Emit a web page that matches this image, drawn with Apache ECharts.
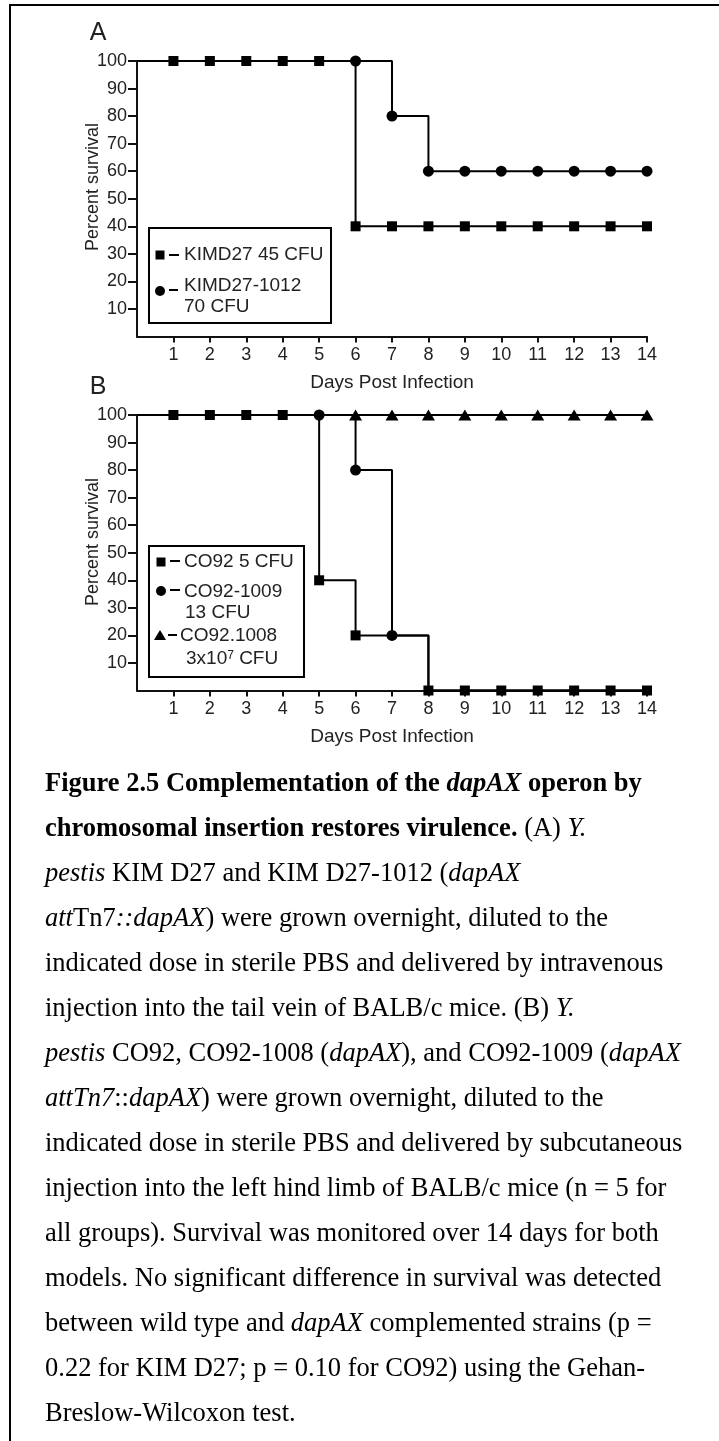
<!DOCTYPE html>
<html>
<head>
<meta charset="utf-8">
<script src="https://cdn.jsdelivr.net/npm/echarts@6/dist/echarts.min.js"></script>
<style>
html,body{margin:0;padding:0;background:#fff;}
#c{width:719px;height:1441px;}
</style>
</head>
<body>
<div id="c"></div>
<script>
// ---------- data ----------
const days = [0,1,2,3,4,5,6,7,8,9,10,11,12,13,14];
const xTicks = [1,2,3,4,5,6,7,8,9,10,11,12,13,14];
const yTicks = [10,20,30,40,50,60,70,80,90,100];

// Panel A
const nameA1 = 'KIMD27 45 CFU';
const nameA2 = ['KIMD27-1012', '70 CFU'];
const survA_KIMD27      = [100,100,100,100,100,100,40,40,40,40,40,40,40,40,40];
const survA_KIMD27_1012 = [100,100,100,100,100,100,100,80,60,60,60,60,60,60,60];
const markA_KIMD27      = [1,2,3,4,5,6,7,8,9,10,11,12,13,14];
const markA_KIMD27_1012 = [6,7,8,9,10,11,12,13,14];

// Panel B
const nameB1 = 'CO92 5 CFU';
const nameB2 = ['CO92-1009', '13 CFU'];
const nameB3 = ['CO92.1008', '3x10{sup|7} CFU'];
const survB_CO92      = [100,100,100,100,100,40,20,20,0,0,0,0,0,0,0];
const survB_CO92_1009 = [100,100,100,100,100,100,80,20,0,0,0,0,0,0,0];
const survB_CO92_1008 = [100,100,100,100,100,100,100,100,100,100,100,100,100,100,100];
const markB_CO92      = [1,2,3,4,5,6,8,9,10,11,12,13,14];
const markB_CO92_1009 = [5,6,7];
const markB_CO92_1008 = [6,7,8,9,10,11,12,13,14];

const yName = 'Percent survival';
const xName = 'Days Post Infection';

// caption lines (rich text)
const caption = [
  '{b|Figure 2.5 Complementation of the }{bi|dapAX}{b| operon by}',
  '{b|chromosomal insertion restores virulence.}{n| (A) }{i|Y.}',
  '{i|pestis}{n| KIM D27 and KIM D27-1012 (}{i|dapAX}',
  '{i|att}{n|Tn7}{i|::dapAX}{n|) were grown overnight, diluted to the}',
  '{n|indicated dose in sterile PBS and delivered by intravenous}',
  '{n|injection into the tail vein of BALB/c mice. (B) }{i|Y.}',
  '{i|pestis}{n| CO92, CO92-1008 (}{i|dapAX}{n|), and CO92-1009 (}{i|dapAX}',
  '{i|attTn7}{n|::}{i|dapAX}{n|) were grown overnight, diluted to the}',
  '{n|indicated dose in sterile PBS and delivered by subcutaneous}',
  '{n|injection into the left hind limb of BALB/c mice (n = 5 for}',
  '{n|all groups). Survival was monitored over 14 days for both}',
  '{n|models. No significant difference in survival was detected}',
  '{n|between wild type and }{i|dapAX}{n| complemented strains (p =}',
  '{n|0.22 for KIM D27; p = 0.10 for CO92) using the Gehan-}',
  '{n|Breslow-Wilcoxon test.}'
];

// ---------- styling ----------
const SANS = '"Liberation Sans", Arial, Helvetica, sans-serif';
const SERIF = '"Liberation Serif", "Times New Roman", serif';
const INK = '#111';
const CAP_FS = 26.5;

function series(name, g, vals, marks, symbol, size) {
  return {
    type: 'line', name: name, xAxisIndex: g, yAxisIndex: g,
    step: 'end', clip: false, animation: false, silent: true,
    symbol: symbol, symbolSize: size, showSymbol: true, showAllSymbol: true,
    lineStyle: { color: '#000', width: 2 },
    itemStyle: { color: '#000', borderWidth: 0 },
    emphasis: { disabled: true },
    data: days.map((d, i) => ({ value: [d, vals[i]], symbol: marks.indexOf(d) >= 0 ? symbol : 'none' }))
  };
}

function xAx(g) {
  return {
    type: 'value', gridIndex: g, min: 0, max: 14, interval: 1,
    axisLine: { show: true, onZero: false, lineStyle: { color: INK, width: 2 } },
    axisTick: { show: true, length: 6, lineStyle: { color: INK, width: 2 }, customValues: xTicks },
    axisLabel: { show: true, customValues: xTicks, margin: 10, fontSize: 18, color: '#222', fontFamily: SANS },
    splitLine: { show: false },
    name: xName, nameLocation: 'middle', nameGap: 37,
    nameTextStyle: { fontSize: 19, color: '#222', fontFamily: SANS }
  };
}
function yAx(g) {
  return {
    type: 'value', gridIndex: g, min: 0, max: 100, interval: 10,
    axisLine: { show: true, onZero: false, lineStyle: { color: INK, width: 2 } },
    axisTick: { show: true, length: 9, lineStyle: { color: INK, width: 2 }, customValues: yTicks },
    axisLabel: { show: true, customValues: yTicks, margin: 10, fontSize: 18, color: '#222', fontFamily: SANS },
    splitLine: { show: false }
  };
}

function txt(x, y, text, opt) {
  opt = opt || {};
  const fs = opt.fs || 19;
  const st = {
    text: text, fill: opt.fill || '#222',
    fontSize: fs, fontFamily: opt.ff || SANS, fontWeight: opt.fw || 'normal',
    align: opt.align || 'left', verticalAlign: 'middle',
    textAlign: opt.align || 'left', textVerticalAlign: 'middle'
  };
  if (opt.rich) st.rich = opt.rich;
  const el = { type: 'text', x: x, y: y, style: st, silent: true, z: 10 };
  if (opt.rot) el.rotation = opt.rot;
  return el;
}
function seg(x1, y1, x2, y2, w) {
  return { type: 'line', shape: { x1: x1, y1: y1, x2: x2, y2: y2 }, style: { stroke: '#000', lineWidth: w || 2 }, silent: true, z: 10 };
}
function sq(cx, cy, s) {
  return { type: 'rect', shape: { x: cx - s / 2, y: cy - s / 2, width: s, height: s }, style: { fill: '#000' }, silent: true, z: 10 };
}
function dot(cx, cy, r) {
  return { type: 'circle', shape: { cx: cx, cy: cy, r: r }, style: { fill: '#000' }, silent: true, z: 10 };
}
function tri(cx, cy, w, h) {
  return { type: 'polygon', shape: { points: [[cx - w / 2, cy + h / 2], [cx + w / 2, cy + h / 2], [cx, cy - h / 2]] }, style: { fill: '#000' }, silent: true, z: 10 };
}
function box(x, y, w, h) {
  return { type: 'rect', shape: { x: x, y: y, width: w, height: h }, style: { fill: '#fff', stroke: '#000', lineWidth: 2 }, silent: true, z: 9 };
}

const capRich = {
  n:  { fontSize: CAP_FS, fontFamily: SERIF, fontWeight: 'normal', fontStyle: 'normal', fill: '#000' },
  i:  { fontSize: CAP_FS, fontFamily: SERIF, fontWeight: 'normal', fontStyle: 'italic', fill: '#000' },
  b:  { fontSize: CAP_FS, fontFamily: SERIF, fontWeight: 'bold', fontStyle: 'normal', fill: '#000' },
  bi: { fontSize: CAP_FS, fontFamily: SERIF, fontWeight: 'bold', fontStyle: 'italic', fill: '#000' }
};
const supRich = {
  sup: { fontSize: 12, fontFamily: SANS, fill: '#222', verticalAlign: 'top' }
};

const graphics = [
  // page frame
  seg(9, 5, 719, 5, 2),
  seg(10, 4, 10, 1441, 2),
  // panel letters
  txt(98, 33, 'A', { fs: 25 , align: 'center'}),
  txt(98, 387, 'B', { fs: 25 , align: 'center'}),
  // y axis titles
  txt(93, 187, yName, { fs: 18, align: 'center', rot: Math.PI / 2 }),
  txt(93, 542, yName, { fs: 18, align: 'center', rot: Math.PI / 2 }),
  // legend A
  box(149, 228, 182, 95),
  sq(160, 255, 9), seg(169, 255, 179, 255, 2), txt(184, 255, nameA1),
  dot(160, 291, 5), seg(169, 290, 178, 290, 2), txt(184, 286, nameA2[0]), txt(184, 307, nameA2[1]),
  // legend B
  box(149, 546, 155, 131),
  sq(161, 562, 9), seg(170, 561, 180, 561, 2), txt(184, 562, nameB1),
  dot(161, 591, 5), seg(170, 590, 180, 590, 2), txt(184, 592, nameB2[0]), txt(185, 613, nameB2[1]),
  tri(160, 635, 12, 10), seg(168, 635, 177, 635, 2), txt(180, 636, nameB3[0]),
  txt(186, 659, nameB3[1], { rich: { sup: supRich.sup } })
];
caption.forEach((line, k) => {
  graphics.push(txt(45, 784 + 45 * k, line, { fs: CAP_FS, ff: SERIF, fill: '#000', rich: capRich }));
});

const chart = echarts.init(document.getElementById('c'), null, { renderer: 'canvas' });
chart.setOption({
  animation: false,
  backgroundColor: '#fff',
  grid: [
    { left: 137, top: 61, width: 510, height: 275.5, containLabel: false, outerBoundsMode: 'none' },
    { left: 137, top: 415, width: 510, height: 275.5, containLabel: false, outerBoundsMode: 'none' }
  ],
  xAxis: [xAx(0), xAx(1)],
  yAxis: [yAx(0), yAx(1)],
  series: [
    series('KIMD27-1012 70 CFU', 0, survA_KIMD27_1012, markA_KIMD27_1012, 'circle', 11),
    series('KIMD27 45 CFU', 0, survA_KIMD27, markA_KIMD27, 'rect', 10),
    series('CO92.1008 3x10^7 CFU', 1, survB_CO92_1008, markB_CO92_1008, 'triangle', [13, 11]),
    series('CO92-1009 13 CFU', 1, survB_CO92_1009, markB_CO92_1009, 'circle', 11),
    series('CO92 5 CFU', 1, survB_CO92, markB_CO92, 'rect', 10)
  ],
  graphic: { elements: graphics }
});
</script>
</body>
</html>
